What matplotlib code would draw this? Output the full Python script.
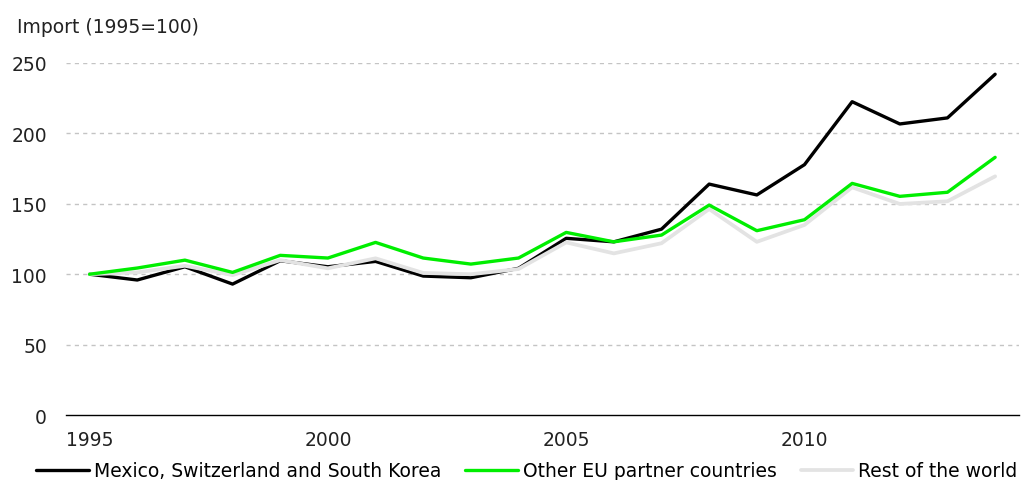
import numpy as np
import matplotlib
matplotlib.use("Agg")
import matplotlib.pyplot as plt

plt.rcParams['font.family'] = ['DejaVu Sans']

# Data (index, 1995 = 100)
years = list(range(1995, 2015))
mexico_ch_kr = [100, 95.9, 105.3, 93.0, 109.6, 105.3, 109.1, 98.7, 97.5, 104.2,
                125.5, 123.0, 132.0, 164.0, 156.3, 177.8, 222.5, 206.7, 211.0, 242.0]
other_eu = [100, 104.4, 110.0, 101.3, 113.4, 111.5, 122.6, 111.5, 107.2, 111.5,
            129.7, 123.0, 127.8, 149.1, 130.9, 138.7, 164.5, 155.3, 158.2, 183.0]
rest_world = [100, 101.3, 106.0, 99.4, 110.0, 104.2, 111.3, 100.9, 100.0, 103.7,
              122.6, 114.8, 122.0, 146.3, 123.0, 135.0, 161.7, 149.9, 151.8, 169.5]
yticks = [0, 50, 100, 150, 200, 250]
xticks = [1995, 2000, 2005, 2010]

fs = 13.5
fig = plt.figure(figsize=(10.21, 4.81), dpi=100)
ax = fig.add_axes([0.0644, 0.135, 0.9336, 0.732])

l1, = ax.plot(years, mexico_ch_kr, color='black', lw=2.4, zorder=3,
              solid_capstyle='round', label='Mexico, Switzerland and South Korea')
l3, = ax.plot(years, rest_world, color='#e3e3e3', lw=2.7, zorder=4,
              solid_capstyle='round', label='Rest of the world')
l2, = ax.plot(years, other_eu, color='#00ee00', lw=2.4, zorder=5,
              solid_capstyle='round', label='Other EU partner countries')

ax.set_xlim(1994.5, 2014.5)
ax.set_ylim(0, 250)
ax.set_yticks(yticks)
ax.set_xticks(xticks)
ax.tick_params(length=0, labelsize=fs, colors='#222222')
ax.tick_params(axis='y', pad=13.5)
ax.tick_params(axis='x', pad=11)

for y in yticks[1:]:
    ax.axhline(y, color='#c4c4c4', lw=1, ls=(0, (3, 3)), zorder=1)
for s in ['top', 'right', 'left']:
    ax.spines[s].set_visible(False)
ax.spines['bottom'].set_linewidth(1)
ax.spines['bottom'].set_color('black')

fig.text(0.017, 0.942, 'Import (1995=100)', fontsize=fs, color='#222222',
         va='center', ha='left')

fig.legend(handles=[l1, l2, l3], loc='center', bbox_to_anchor=(0.516, 0.019),
           ncol=3, frameon=False, fontsize=fs, handlelength=2.8,
           handletextpad=0.25, columnspacing=1.3, borderaxespad=0)

fig.savefig('out.png', dpi=100)
